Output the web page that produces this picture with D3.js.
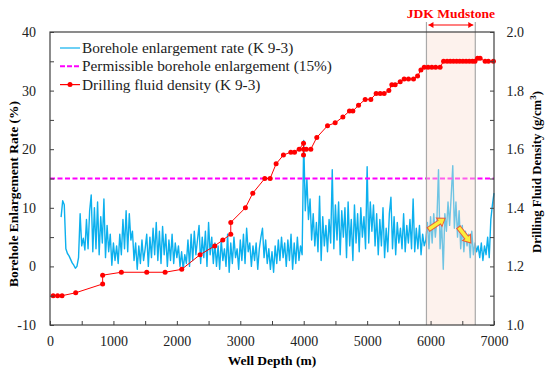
<!DOCTYPE html>
<html>
<head>
<meta charset="utf-8">
<script src="https://cdn.jsdelivr.net/npm/d3@7/dist/d3.min.js"></script>
<style>
body { margin: 0; background: #fff; }
svg text { font-family: "Liberation Serif", "Times New Roman", serif; }
</style>
</head>
<body>
<svg id="chart" width="550" height="376"></svg>
<script>
// borehole enlargement rate (%), one reading every 25 m starting at 175 m
var enlargeStart = 175, enlargeStep = 25;
var enlargement = [
  8.4,
  11.2, 10.5, 3.0, 2.2,   1.8, 1.2, 0.6, 0.2,   -0.3, 0.0, 1.5, 9.0,   3.5, 4.8, 2.8, 8.0,
  3.0, 9.5, 12.2, 2.5,   10.0, 3.0, 11.0, 2.0,   8.5, 4.0, 11.5, 1.5,   7.0, 2.5, 5.5, 0.2,
  4.0, 1.0, 3.5, 0.5,   5.5, 2.0, 8.0, 3.0,   9.5, 2.5, 9.0, 4.5,   6.0, 1.0, 4.0, -0.5,
  3.5, 0.5, 4.5, 1.0,   3.0, 5.5, 0.0, 5.0,   1.5, 6.5, 2.0, 7.5,   1.0, 6.0, 0.5, 6.8,
  2.0, 5.5, 0.0, 4.5,   1.0, 5.5, 0.5, 4.0,   1.5, 3.5, 0.0, 2.5,   -0.5, 2.0, 0.5, 4.5,
  0.0, 5.5, 1.0, 6.0,   2.0, 4.5, 7.0, 0.5,   5.0, 1.5, 6.0, 0.0,   7.5, 2.0, 5.0, 0.5,
  4.0, 0.0, 3.5, -0.5,   4.5, 1.0, 3.0, 0.0,   5.5, -1.0, 4.0, 0.5,   5.0, 1.5, 3.0, -0.5,
  4.5, 1.0, 5.5, 0.5,   6.5, 2.5, 4.0, 0.0,   3.5, 1.0, 4.0, -0.5,   3.0, 5.0, 6.5, 1.5,
  4.5, 0.5, 3.0, -0.5,   2.5, -1.0, 3.5, 0.5,   4.5, 1.0, 5.0, 1.5,   4.0, 0.0, 4.5, 1.0,
  5.5, -0.5, 4.0, 0.5,   5.0, 1.0, 3.5, 2.0,   21.5, 9.5, 15.0, 8.0,   11.5, 4.5, 9.0, 3.5,
  7.5, 2.5, 12.0, 1.0,   8.5, 3.5, 7.0, 2.5,   8.0, 4.0, 16.5, 3.0,   10.5, 4.5, 11.0, 2.0,
  9.5, 5.0, 10.0, 1.5,   11.0, 3.5, 8.0, 1.0,   10.5, 4.0, 9.0, 2.5,   10.0, 5.0, 8.5, 3.0,
  17.0, 4.0, 11.0, 6.0,   10.5, 3.5, 9.0, 2.0,   8.0, 3.5, 10.0, 1.5,   6.5, 2.5, 9.0, 11.8,
  3.0, 8.5, 2.0, 7.5,   4.0, 6.5, 3.0, 9.0,   2.5, 7.0, 4.0, 8.0,   3.0, 11.5, 2.5, 6.5,
  3.0, 7.0, 2.0, 5.5,   3.5, 4.5, 7.5, 3.0,   8.5, 4.0, 9.0, 5.0,   8.0, 16.5, 3.0, 7.5,
  -0.5, 9.0, 6.0, 11.0,   7.0, 12.0, 17.2, 6.5,   11.0, 5.0, 9.5, 3.0,   7.0, 2.5, 6.0, 3.5,
  5.5, 1.5, 6.0, 2.0,   4.0, 2.5, 3.5, 1.5,   4.0, 1.0, 3.5, 2.0,   5.0, 1.5, 8.0, 10.5,
  12.5
];

// drilling fluid density (g/cm3)
var densityDepth = [50, 120, 190, 405, 830, 830, 1125, 1525, 1815, 2077,
  2366, 2597, 2724, 2850, 2850, 3081, 3197, 3386, 3470, 3565,
  3680, 3797, 3855, 3928, 3997, 3997, 3997, 4040, 4112, 4206,
  4375, 4496, 4617, 4721, 4775, 4864, 4969, 5058, 5142, 5205,
  5268, 5342, 5389, 5442, 5521, 5584, 5652, 5731, 5795, 5848,
  5900, 5960, 6020, 6080, 6150, 6205, 6260, 6310, 6360, 6410,
  6460, 6510, 6560, 6610, 6660, 6700, 6740, 6781, 6860, 6912, 6991];
var density = [1.10, 1.10, 1.10, 1.11, 1.14, 1.17, 1.18, 1.18, 1.18, 1.19,
  1.24, 1.27, 1.29, 1.31, 1.35, 1.40, 1.45, 1.50, 1.50, 1.55,
  1.58, 1.59, 1.59, 1.60, 1.62, 1.58, 1.60, 1.60, 1.60, 1.64,
  1.68, 1.69, 1.71, 1.73, 1.73, 1.75, 1.77, 1.77, 1.79, 1.79,
  1.79, 1.80, 1.82, 1.82, 1.83, 1.84, 1.84, 1.84, 1.85, 1.87,
  1.88, 1.88, 1.88, 1.88, 1.88, 1.90, 1.90, 1.90, 1.90, 1.90,
  1.90, 1.90, 1.90, 1.90, 1.90, 1.90, 1.91, 1.91, 1.90, 1.90, 1.90];

var permissible = 15;
var mudstone = [5935, 6705];
var arrowsAt = [[5966, 6.3, 6229, 8.2], [6439, 6.7, 6635, 4.0]];

var depthTicks = d3.range(0, 7001, 500);
var rateTicks = d3.range(-10, 41, 5);
var densTicks = d3.range(10, 21, 1).map(function(d){ return d / 10; });
var legendNames = ["Borehole enlargement rate (K 9-3)",
  "Permissible borehole enlargement (15%)",
  "Drilling fluid density (K 9-3)"];

var blue = "#0cb0ee", red = "#ff0000", pink = "#ff00ff";
var serif = "Liberation Serif";
var plotL = 50, plotR = 494, plotT = 32, plotB = 325;

var svg = d3.select("#chart");
var x = d3.scaleLinear().domain([0, 7000]).range([plotL, plotR]);
var yL = d3.scaleLinear().domain([-10, 40]).range([plotB, plotT]);
var yR = d3.scaleLinear().domain([1.0, 2.0]).range([plotB, plotT]);

var rates = enlargement.map(function(v, i){ return [enlargeStart + i * enlargeStep, v]; });

svg.append("path")
  .datum(rates)
  .attr("fill", "none")
  .attr("stroke", blue)
  .attr("stroke-width", 1.4)
  .attr("stroke-linejoin", "round")
  .attr("d", d3.line().x(function(d){ return x(d[0]); }).y(function(d){ return yL(d[1]); }));

svg.append("line")
  .attr("x1", x(0)).attr("x2", x(7000))
  .attr("y1", yL(permissible)).attr("y2", yL(permissible))
  .attr("stroke", pink).attr("stroke-width", 2)
  .attr("stroke-dasharray", "5,2.5");

// JDK mudstone band
svg.append("rect")
  .attr("x", x(mudstone[0])).attr("y", plotT)
  .attr("width", x(mudstone[1]) - x(mudstone[0]))
  .attr("height", plotB - plotT)
  .attr("fill", "#fae1d4").attr("opacity", 0.42);
mudstone.forEach(function(m){
  svg.append("line")
    .attr("x1", x(m)).attr("x2", x(m))
    .attr("y1", 22).attr("y2", plotB)
    .attr("stroke", "#a9a9a9").attr("stroke-width", 1.2);
});

// density line
var dens = densityDepth.map(function(d, i){ return [d, density[i]]; });
svg.append("path")
  .datum(dens)
  .attr("fill", "none")
  .attr("stroke", red)
  .attr("stroke-width", 1)
  .attr("d", d3.line().x(function(d){ return x(d[0]); }).y(function(d){ return yR(d[1]); }));
svg.selectAll("circle.dens")
  .data(dens)
  .enter().append("circle")
  .attr("class", "dens")
  .attr("cx", function(d){ return x(d[0]); })
  .attr("cy", function(d){ return yR(d[1]); })
  .attr("r", 2.5)
  .attr("fill", red);

// yellow arrows
arrowsAt.forEach(function(a){
  var x1 = x(a[0]), y1 = yL(a[1]), x2 = x(a[2]), y2 = yL(a[3]);
  var ang = Math.atan2(y2 - y1, x2 - x1) * 180 / Math.PI;
  var len = Math.hypot(x2 - x1, y2 - y1);
  var h = 7;
  var p = "M0,-2.2 L" + (len - h) + ",-2.2 L" + (len - h) + ",-5 L" + len + ",0 L" +
    (len - h) + ",5 L" + (len - h) + ",2.2 L0,2.2 Z";
  svg.append("path")
    .attr("d", p)
    .attr("transform", "translate(" + x1 + "," + y1 + ") rotate(" + ang + ")")
    .attr("fill", "#fbef3c").attr("stroke", "#ea5a3c").attr("stroke-width", 1);
});

// frame and axes
svg.append("rect")
  .attr("x", plotL).attr("y", plotT)
  .attr("width", plotR - plotL).attr("height", plotB - plotT)
  .attr("fill", "none").attr("stroke", "#404040").attr("stroke-width", 1.2);

var gx = svg.append("g").attr("transform", "translate(0," + plotB + ")")
  .call(d3.axisBottom(x).tickValues(depthTicks).tickSize(-4).tickPadding(11)
    .tickFormat(function(d){ return d % 1000 === 0 ? d : ""; }));
var gl = svg.append("g").attr("transform", "translate(" + plotL + ",0)")
  .call(d3.axisLeft(yL).tickValues(rateTicks).tickSize(-4).tickPadding(14)
    .tickFormat(function(d){ return d % 10 === 0 ? d : ""; }));
var gr = svg.append("g").attr("transform", "translate(" + plotR + ",0)")
  .call(d3.axisRight(yR).tickValues(densTicks).tickSize(-4).tickPadding(12.5)
    .tickFormat(function(d){ return Math.round(d * 10) % 2 === 0 ? d.toFixed(1) : ""; }));
[gx, gl, gr].forEach(function(g){
  g.attr("font-family", serif);
  g.select(".domain").remove();
  g.selectAll(".tick line").attr("stroke", "#404040");
  g.selectAll("text").attr("font-family", serif).attr("font-size", 14).attr("fill", "#222");
});

svg.append("text")
  .attr("x", (plotL + plotR) / 2).attr("y", 365)
  .attr("font-family", serif)
  .attr("text-anchor", "middle").attr("font-weight", "bold").attr("font-size", 13.5)
  .text("Well Depth (m)");
svg.append("text")
  .attr("transform", "translate(18,194) rotate(-90)")
  .attr("font-family", serif)
  .attr("text-anchor", "middle").attr("font-weight", "bold").attr("font-size", 13.5)
  .text("Borehole Enlargement Rate (%)");
var rt = svg.append("text")
  .attr("transform", "translate(541,172) rotate(-90)")
  .attr("font-family", serif)
  .attr("text-anchor", "middle").attr("font-weight", "bold").attr("font-size", 12.8);
rt.append("tspan").text("Drilling Fluid Density (g/cm");
rt.append("tspan").attr("dy", -5).attr("font-size", 9).text("3");
rt.append("tspan").attr("dy", 5).text(")");

// JDK Mudstone annotation
svg.append("text")
  .attr("x", (x(mudstone[0]) + x(mudstone[1])) / 2).attr("y", 18)
  .attr("font-family", serif)
  .attr("text-anchor", "middle").attr("font-weight", "bold").attr("font-size", 13.5)
  .attr("fill", red)
  .text("JDK Mudstone");
var ay = 25, ax1 = x(mudstone[0]) + 2, ax2 = x(mudstone[1]) - 2;
svg.append("line").attr("x1", ax1).attr("x2", ax2).attr("y1", ay).attr("y2", ay)
  .attr("stroke", red).attr("stroke-width", 1.2);
svg.append("path")
  .attr("d", "M" + ax1 + "," + ay + " l5,-3 l0,6 Z M" + ax2 + "," + ay + " l-5,-3 l0,6 Z")
  .attr("fill", red);

// legend
var lg = svg.append("g").attr("transform", "translate(60,48)");
legendNames.forEach(function(name, i){
  var g = lg.append("g").attr("transform", "translate(0," + (i * 18.3) + ")");
  var ln = g.append("line").attr("x1", 0).attr("x2", 20).attr("y1", 0).attr("y2", 0)
    .attr("stroke", [blue, pink, red][i]).attr("stroke-width", i === 1 ? 2 : 1.2);
  if (i === 1) ln.attr("stroke-dasharray", "5,2");
  if (i === 2) g.append("circle").attr("cx", 10).attr("cy", 0).attr("r", 2.5).attr("fill", red);
  g.append("text").attr("x", 22).attr("y", 5)
    .attr("font-family", serif).attr("font-size", 15.3).attr("fill", "#222").text(name);
});
</script>
</body>
</html>
